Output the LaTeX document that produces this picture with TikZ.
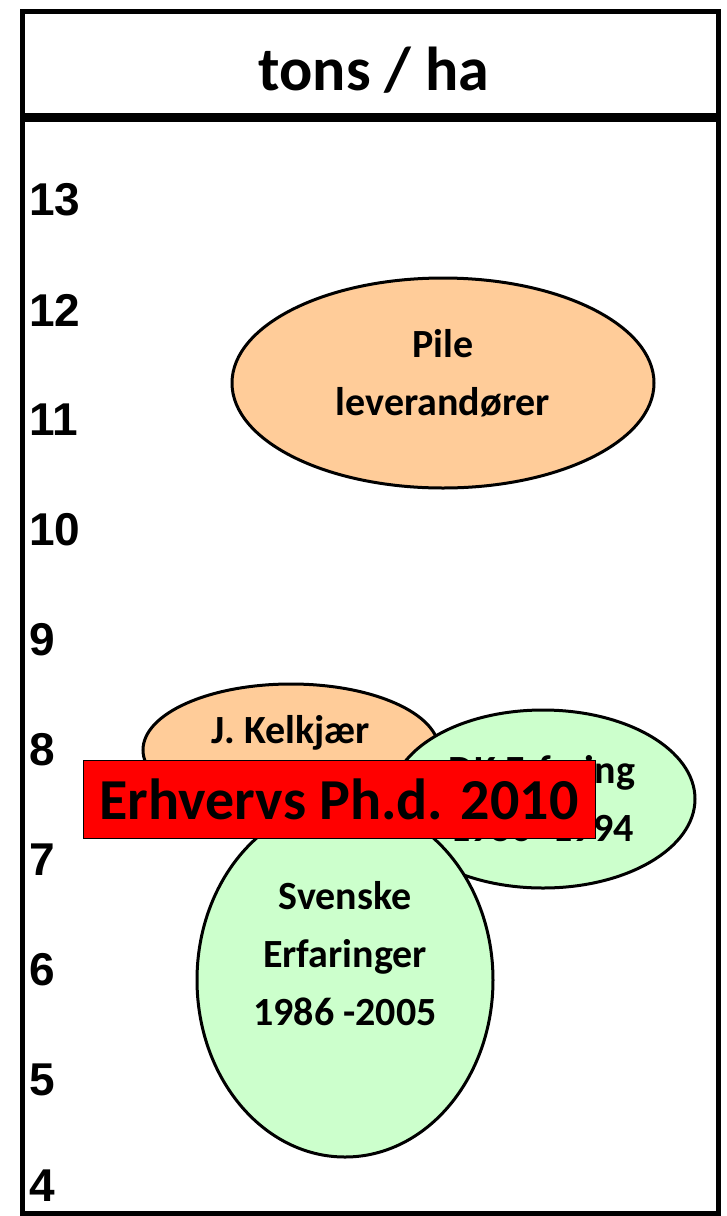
\documentclass[tikz,border=0pt]{standalone}
\usepackage{fontspec}
\setmainfont{Carlito}
\newfontfamily\axisfont{Liberation Sans}
\usetikzlibrary{shapes.geometric}
\definecolor{peach}{HTML}{FFCC99}
\definecolor{mint}{HTML}{CCFFCC}
\tikzset{
  blob/.style={ellipse, draw=black, line width=3pt, inner sep=0pt},
  peachblob/.style={blob, fill=peach},
  mintblob/.style={blob, fill=mint},
  blobtext/.style={font=\bfseries\fontsize{40}{58}\selectfont, align=center, inner sep=0pt, text=black},
  axislabel/.style={font=\axisfont\bfseries\fontsize{46}{46}\selectfont, anchor=west, inner sep=0pt},
  frameline/.style={line width=5pt, draw=black}
}
\begin{document}
\begin{tikzpicture}[x=1pt,y=-1pt]
\useasboundingbox (0,0) rectangle (726,1216);
% frame
\draw[frameline] (22,11) rectangle (718,1213);
\draw[line width=9pt] (22,117) -- (718,117);
\node[font=\bfseries\fontsize{62}{62}\selectfont, inner sep=0pt] (title) at (374,70) {tons / ha};
% axis labels
\node[axislabel] (l13) at (29,200) {13};
\node[axislabel] (l12) at (29,310) {12};
\node[axislabel] (l11) at (29,420) {11};
\node[axislabel] (l10) at (29,530) {10};
\node[axislabel] (l9) at (29,640) {9};
\node[axislabel] (l8) at (29,750) {8};
\node[axislabel] (l7) at (29,860) {7};
\node[axislabel] (l6) at (29,970) {6};
\node[axislabel] (l5) at (29,1080) {5};
\node[axislabel] (l4) at (29,1186) {4};
% ellipses
\node[peachblob, minimum width=422pt, minimum height=210pt] (pile) at (443,383) {};
\node[blobtext] (piletext) at (443,373) {Pile\\leverandører};
\node[peachblob, minimum width=296pt, minimum height=132pt] (kelk) at (291,750) {};
\node[blobtext] (kelktext) at (291,733) {J. Kelkjær};
\node[mintblob, minimum width=304pt, minimum height=178pt] (dk) at (543,799) {};
\node[blobtext] (dktext) at (542,799) {DK Erfaring\\1986 -1994};
\node[mintblob, minimum width=296pt, minimum height=354pt] (sv) at (345,980) {};
\node[blobtext] (svtext) at (345,954) {Svenske\\Erfaringer\\1986 -2005};
% red banner
\node[draw=black, line width=1pt, fill=red, minimum width=512pt, minimum height=78pt, inner sep=0pt, font=\bfseries\fontsize{58}{58}\selectfont] (phd) at (339,799) {Erhvervs Ph.d. 2010};
\end{tikzpicture}
\end{document}
